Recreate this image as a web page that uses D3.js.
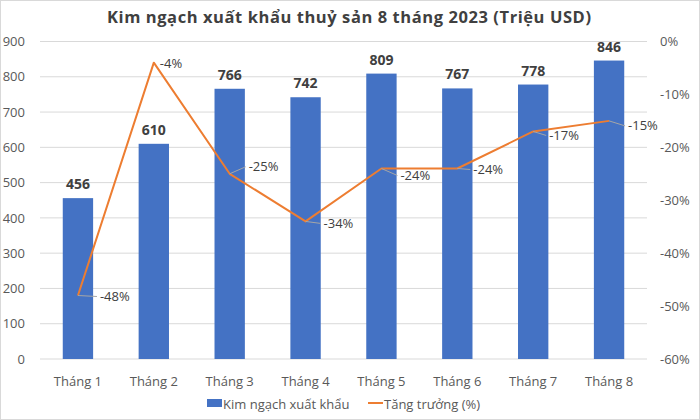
<!DOCTYPE html>
<html>
<head>
<meta charset="utf-8">
<script src="https://cdn.jsdelivr.net/npm/d3@7/dist/d3.min.js"></script>
<style>
  html, body { margin: 0; padding: 0; background: #fff; }
  svg { display: block; font-family: "Open Sans", "Noto Sans", sans-serif; }
</style>
</head>
<body>
<svg id="chart" width="700" height="420"></svg>
<script>
const title = "Kim ngạch xuất khẩu thuỷ sản 8 tháng 2023 (Triệu USD)";
const categories = ["Tháng 1", "Tháng 2", "Tháng 3", "Tháng 4", "Tháng 5", "Tháng 6", "Tháng 7", "Tháng 8"];
const exportValues = [456, 610, 766, 742, 809, 767, 778, 846];
const growthValues = [-48, -4, -25, -34, -24, -24, -17, -15];
const leftTicks = [0, 100, 200, 300, 400, 500, 600, 700, 800, 900];
const rightTicks = [0, -10, -20, -30, -40, -50, -60];
const seriesNames = ["Kim ngạch xuất khẩu", "Tăng trưởng (%)"];
// label placement offsets (layout, not data)
const labelOffsets = [[22, 1], [6, 1], [19, -7], [18, 2], [19, 7], [16, 1], [16, 4], [19, 5]];

const svg = d3.select("#chart");
const W = 700, H = 420;
const m = { left: 40, right: 53, top: 41.5, bottom: 61 };
const iw = W - m.left - m.right, ih = H - m.top - m.bottom;

svg.append("rect").attr("x", 0.5).attr("y", 0.5).attr("width", W - 1).attr("height", H - 1)
  .attr("fill", "#fff").attr("stroke", "#d9d9d9");

svg.append("text").attr("x", 349).attr("y", 23).attr("text-anchor", "middle")
  .attr("font-size", 16.5).attr("font-weight", "bold").attr("fill", "#404040")
  .attr("font-family", "'Open Sans', sans-serif").attr("textLength", 484)
  .text(title);

const g = svg.append("g").attr("transform", `translate(${m.left},${m.top})`);

const x = d3.scaleBand().domain(categories).range([0, iw]).paddingInner(0.6).paddingOuter(0.3);
const y = d3.scaleLinear().domain([0, 900]).range([ih, 0]);
const y2 = d3.scaleLinear().domain([-60, 0]).range([ih, 0]);

// gridlines
g.append("g").selectAll("line").data(leftTicks).join("line")
  .attr("x1", 0).attr("x2", iw).attr("y1", d => y(d)).attr("y2", d => y(d))
  .attr("stroke", "#d9d9d9").attr("stroke-width", 1);

// left axis
const la = g.append("g").attr("transform", "translate(-15,0)")
  .call(d3.axisLeft(y).tickValues(leftTicks).tickSize(0).tickPadding(0));
la.select(".domain").remove();
la.selectAll("text").attr("font-size", 13).attr("fill", "#595959").attr("font-family", "'Open Sans', sans-serif");

// right axis
const ra = g.append("g").attr("transform", `translate(${iw + 13},0)`)
  .call(d3.axisRight(y2).tickValues(rightTicks).tickSize(0).tickPadding(0).tickFormat(d => d + "%"));
ra.select(".domain").remove();
ra.selectAll("text").attr("font-size", 13).attr("fill", "#595959").attr("font-family", "'Open Sans', sans-serif");

// x axis labels
const xa = g.append("g").attr("transform", `translate(0,${ih})`)
  .call(d3.axisBottom(x).tickSize(0).tickPadding(18));
xa.select(".domain").remove();
xa.selectAll("text").attr("font-size", 13).attr("fill", "#595959").attr("font-family", "'Open Sans', sans-serif");

// bars
g.append("g").selectAll("rect").data(exportValues).join("rect")
  .attr("x", (d, i) => x(categories[i]))
  .attr("width", x.bandwidth())
  .attr("y", d => y(d))
  .attr("height", d => ih - y(d))
  .attr("fill", "#4472C4");

// bar labels
g.append("g").selectAll("text").data(exportValues).join("text")
  .attr("x", (d, i) => x(categories[i]) + x.bandwidth() / 2)
  .attr("y", d => y(d) - 9)
  .attr("text-anchor", "middle")
  .attr("font-size", 14).attr("font-weight", "bold").attr("fill", "#404040")
  .text(d => d);

// line
const cx = i => x(categories[i]) + x.bandwidth() / 2;
const line = d3.line().x((d, i) => cx(i)).y(d => y2(d));
g.append("path").datum(growthValues).attr("d", line)
  .attr("fill", "none").attr("stroke", "#ED7D31").attr("stroke-width", 2).attr("stroke-linejoin", "round");

// leader lines + labels
const lbl = g.append("g");
growthValues.forEach((d, i) => {
  const px = cx(i), py = y2(d);
  const [dx, dy] = labelOffsets[i];
  if (dx > 8) {
    lbl.append("line").attr("x1", px).attr("y1", py).attr("x2", px + dx - 3).attr("y2", py + dy)
      .attr("stroke", "#a6a6a6").attr("stroke-width", 1);
  }
  lbl.append("text").attr("x", px + dx).attr("y", py + dy).attr("dy", "0.35em")
    .attr("font-size", 13).attr("fill", "#404040")
    .text(d + "%");
});

// legend
const lg = svg.append("g").attr("transform", "translate(0,404)");
lg.append("rect").attr("x", 207).attr("y", -5).attr("width", 15).attr("height", 8).attr("fill", "#4472C4");
lg.append("text").attr("x", 223).attr("y", 0).attr("dy", "0.35em").attr("font-size", 13).attr("fill", "#595959")
  .text(seriesNames[0]);
lg.append("line").attr("x1", 368).attr("x2", 383).attr("y1", -1).attr("y2", -1).attr("stroke", "#ED7D31").attr("stroke-width", 2);
lg.append("text").attr("x", 384).attr("y", 0).attr("dy", "0.35em").attr("font-size", 13).attr("fill", "#595959")
  .text(seriesNames[1]);
</script>
</body>
</html>
